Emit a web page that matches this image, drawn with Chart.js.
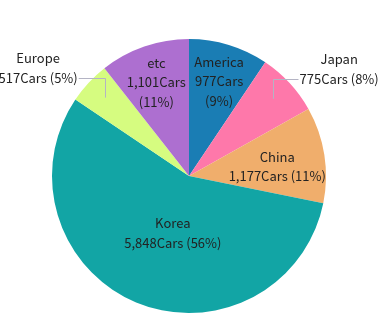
<!DOCTYPE html>
<html>
<head>
<meta charset="utf-8">
<script src="https://cdn.jsdelivr.net/npm/chart.js@4/dist/chart.umd.min.js"></script>
<style>
  html, body { margin: 0; padding: 0; background: #fff; }
  #wrap { width: 378px; height: 314px; position: relative; }
</style>
</head>
<body>
<div id="wrap"><canvas id="carChart"></canvas></div>
<script>
const countries = ['America', 'Japan', 'China', 'Korea', 'Europe', 'etc'];
const cars = [977, 775, 1177, 5848, 517, 1101];
const percents = [9, 8, 11, 56, 5, 11];
const sliceColors = ['#1a7db4', '#fe78aa', '#f0ae6c', '#12a5a5', '#d6fc80', '#ad6fd0'];

// how each label is placed: inside lines, or outside with a leader line
const labelStyle = {
    America: { inside: true, r: 0.73, lines: 3, dx: 1, dy: 1 },
    Japan:   { inside: false, r: 0.83, side: 1 },
    China:   { inside: true, r: 0.63, lines: 2, dx: 3, dy: 4 },
    Korea:   { inside: true, r: 0.42, lines: 2, dx: 6, dy: 4 },
    Europe:  { inside: false, r: 0.84, side: -1 },
    etc:     { inside: true, r: 0.73, lines: 3, dx: 0, dy: 1 }
};

const fmt = n => n.toLocaleString('en-US');

const sliceLabels = {
    id: 'sliceLabels',
    afterDraw(chart) {
        const ctx = chart.ctx;
        const arcs = chart.getDatasetMeta(0).data;
        const lh = 19.5;
        ctx.save();
        ctx.font = '13px "Noto Sans CJK KR", "Noto Sans", sans-serif';
        ctx.fillStyle = '#222';
        ctx.textBaseline = 'middle';
        arcs.forEach((arc, i) => {
            const name = countries[i];
            const st = labelStyle[name];
            const mid = (arc.startAngle + arc.endAngle) / 2;
            const rr = arc.outerRadius * st.r;
            const px = arc.x + Math.cos(mid) * rr;
            const py = arc.y + Math.sin(mid) * rr;
            const carsTxt = fmt(cars[i]) + 'Cars';
            const pctTxt = '(' + percents[i] + '%)';
            if (st.inside) {
                ctx.textAlign = 'center';
                let lines = st.lines === 3 ? [name, carsTxt, pctTxt] : [name, carsTxt + ' ' + pctTxt];
                const top = py + st.dy - (lines.length - 1) * lh / 2;
                lines.forEach((t, k) => ctx.fillText(t, px + st.dx, top + k * lh));
            } else {
                const ey = py - 20;
                const tx = px + st.side * 26;
                ctx.strokeStyle = '#b4b4c4';
                ctx.lineWidth = 1;
                ctx.beginPath();
                ctx.moveTo(Math.round(px) + 0.5, py);
                ctx.lineTo(Math.round(px) + 0.5, Math.round(ey) + 0.5);
                ctx.lineTo(tx, Math.round(ey) + 0.5);
                ctx.stroke();
                const line2 = carsTxt + ' ' + pctTxt;
                const w = ctx.measureText(line2).width;
                const x0 = st.side > 0 ? tx + 1 : tx - 1 - w;
                ctx.textAlign = 'left';
                ctx.fillText(line2, x0, ey);
                ctx.textAlign = 'center';
                ctx.fillText(name, x0 + w / 2, ey - lh);
            }
        });
        ctx.restore();
    }
};

new Chart(document.getElementById('carChart'), {
    type: 'pie',
    data: {
        labels: countries,
        datasets: [{
            data: cars,
            backgroundColor: sliceColors,
            borderWidth: 0
        }]
    },
    options: {
        responsive: true,
        maintainAspectRatio: false,
        animation: false,
        layout: { padding: { left: 51, right: 51, top: 39, bottom: 1 } },
        plugins: {
            legend: { display: false },
            tooltip: { enabled: false }
        }
    },
    plugins: [sliceLabels]
});
</script>
</body>
</html>
